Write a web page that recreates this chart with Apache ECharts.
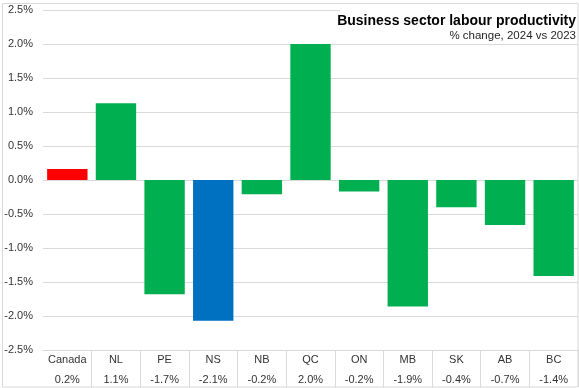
<!DOCTYPE html>
<html>
<head>
<meta charset="utf-8">
<script src="https://cdn.jsdelivr.net/npm/echarts@6/dist/echarts.min.js"></script>
<style>
html,body{margin:0;padding:0;background:#fff;}
#chart{width:579px;height:388px;}
</style>
</head>
<body>
<div id="chart"></div>
<script>
const categories = ['Canada','NL','PE','NS','NB','QC','ON','MB','SK','AB','BC'];
const values = [0.16, 1.13, -1.68, -2.07, -0.21, 2.0, -0.17, -1.86, -0.40, -0.66, -1.41];
const tableLabels = ['0.2%','1.1%','-1.7%','-2.1%','-0.2%','2.0%','-0.2%','-1.9%','-0.4%','-0.7%','-1.4%'];
const barColors = {Canada:'#FF0000', NS:'#0070C0'};
const defaultColor = '#00B050';
const titleText = 'Business sector labour productivity';
const subtitleText = '% change, 2024 vs 2023';

const chart = echarts.init(document.getElementById('chart'));
const font = 'Liberation Sans, Arial, sans-serif';
chart.setOption({
  animation:false,
  graphic:[
    {type:'rect', z:1, silent:true, shape:{x:2.5,y:3.5,width:575.5,height:383.5}, style:{fill:'none', stroke:'#d9d9d9', lineWidth:1}},
    {type:'rect', z:50, silent:true, shape:{x:340,y:4,width:237,height:37}, style:{fill:'#fff'}},
    {type:'text', z:60, silent:true, x:576, y:21, scaleY:1.08, style:{text:titleText, fill:'#000', font:'bold 14px Liberation Sans, Arial, sans-serif', textAlign:'right', textVerticalAlign:'middle'}},
    {type:'text', z:60, silent:true, x:576, y:36, style:{text:subtitleText, fill:'#262626', font:'11.5px Liberation Sans, Arial, sans-serif', textAlign:'right', textVerticalAlign:'middle'}}
  ],
  grid:{left:43, right:1, top:10, bottom:38},
  xAxis:{
    type:'category',
    data:categories,
    axisLine:{onZero:false, lineStyle:{color:'#d9d9d9'}},
    axisTick:{show:true, length:37, lineStyle:{color:'#d9d9d9'},
      interval:function(i){return i!==0;}},
    axisLabel:{
      interval:0, margin:0,
      formatter:function(v,i){return '{n|'+v+'}\n{v|'+tableLabels[i]+'}';},
      rich:{
        n:{fontFamily:font, fontSize:11, color:'#333', lineHeight:20},
        v:{fontFamily:font, fontSize:11, color:'#333', lineHeight:20}
      }
    }
  },
  yAxis:{
    type:'value', min:-2.5, max:2.5, interval:0.5,
    axisLine:{show:false}, axisTick:{show:false},
    splitLine:{lineStyle:{color:'#d9d9d9'}},
    axisLabel:{fontFamily:font, fontSize:11, color:'#333', margin:10,
      formatter:function(v){return v.toFixed(1)+'%';}}
  },
  series:[{
    type:'bar',
    data:values,
    barCategoryGap:'17%',
    itemStyle:{color:function(p){return barColors[p.name]||defaultColor;}}
  }]
});
</script>
</body>
</html>
